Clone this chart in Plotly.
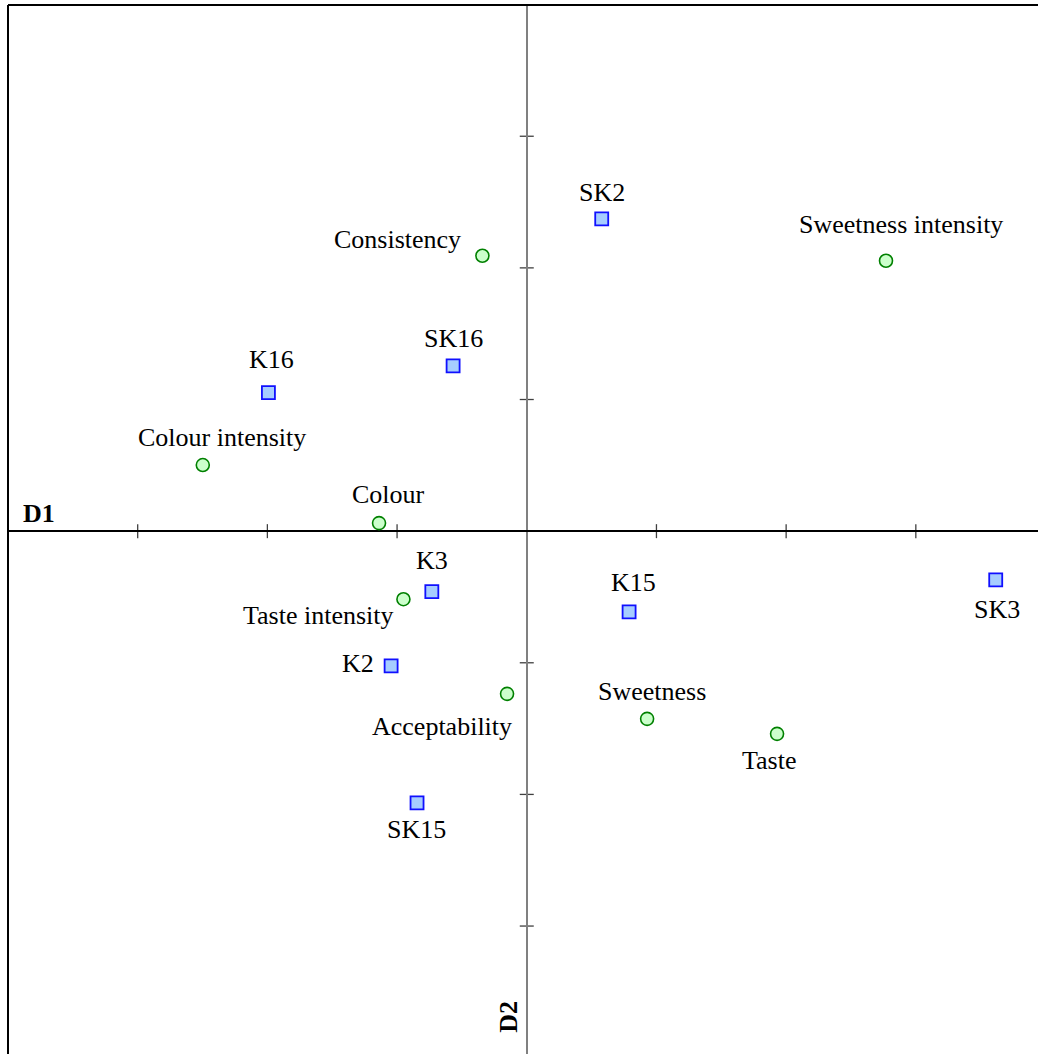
import plotly.graph_objects as go

# Product scores on the first two dimensions (squares)
products = ["SK2", "SK16", "K16", "K3", "K15", "SK3", "K2", "SK15"]
prod_d1 = [0.578, -0.568, -1.992, -0.732, 0.789, 3.616, -1.046, -0.846]
prod_d2 = [2.373, 1.256, 1.053, -0.459, -0.613, -0.370, -1.024, -2.065]

# Sensory attributes (circles)
attributes = ["Consistency", "Sweetness intensity", "Colour intensity", "Colour",
              "Taste intensity", "Acceptability", "Sweetness", "Taste"]
attr_d1 = [-0.342, 2.770, -2.498, -1.139, -0.951, -0.152, 0.928, 1.930]
attr_d2 = [2.092, 2.054, 0.502, 0.061, -0.517, -1.236, -1.426, -1.540]

# Tick positions along both axes (unlabelled)
tick_vals = [-3, -2, -1, 1, 2, 3]

# Label placement (pixel offsets from each marker: dx right, dy up)
label_offset = {
    "SK2": (0, 26), "SK16": (0, 27), "K16": (3, 33), "K3": (0, 31),
    "K15": (4, 29), "SK3": (1, -30), "K2": (-33, 2), "SK15": (-1, -27),
    "Consistency": (-85, 16), "Sweetness intensity": (15, 36),
    "Colour intensity": (19, 28), "Colour": (9, 29),
    "Taste intensity": (-85, -16), "Acceptability": (-65, -33),
    "Sweetness": (5, 27), "Taste": (-8, -27),
}

W, H = 1038, 1054
X_RANGE = [-4.0, 3.942]
Y_RANGE = [-3.972, 3.997]
FONT = "Liberation Serif, Times New Roman, serif"

fig = go.Figure()

fig.add_trace(go.Scatter(
    x=attr_d1, y=attr_d2, mode="markers", name="Attributes",
    marker=dict(symbol="circle", size=13, color="#ccffcc",
                line=dict(color="#008000", width=1.6)),
    hoverinfo="text", text=attributes,
))
fig.add_trace(go.Scatter(
    x=prod_d1, y=prod_d2, mode="markers", name="Products",
    marker=dict(symbol="square", size=13, color="#a6cdff",
                line=dict(color="#1010ff", width=1.8)),
    hoverinfo="text", text=products,
))

annotations = []
for names, xs, ys in ((products, prod_d1, prod_d2), (attributes, attr_d1, attr_d2)):
    for name, xv, yv in zip(names, xs, ys):
        dx, dy = label_offset[name]
        annotations.append(dict(
            x=xv, y=yv, xref="x", yref="y", text=name, showarrow=False,
            xanchor="center", yanchor="middle", xshift=dx, yshift=dy,
            font=dict(family=FONT, size=26, color="#000000"),
        ))

# Axis titles
annotations.append(dict(
    x=X_RANGE[0], y=0, xref="x", yref="y", text="<b>D1</b>", showarrow=False,
    xanchor="left", yanchor="middle", xshift=13, yshift=18,
    font=dict(family=FONT, size=26, color="#000000"),
))
annotations.append(dict(
    x=0, y=Y_RANGE[0], xref="x", yref="y", text="<b>D2</b>", showarrow=False,
    xanchor="center", yanchor="middle", xshift=-19, yshift=37, textangle=-90,
    font=dict(family=FONT, size=26, color="#000000"),
))

shapes = []
# Frame on left and top edges
shapes.append(dict(type="line", xref="paper", yref="paper", x0=0, x1=0, y0=0, y1=1,
                   line=dict(color="#000000", width=2)))
shapes.append(dict(type="line", xref="paper", yref="paper", x0=0, x1=1, y0=1, y1=1,
                   line=dict(color="#000000", width=2)))
# Tick marks crossing the axes
for t in tick_vals:
    shapes.append(dict(type="line", xref="x", yref="y", xsizemode="scaled",
                       ysizemode="pixel", yanchor=0, x0=t, x1=t, y0=-7, y1=7,
                       line=dict(color="#404040", width=1.3), layer="below"))
    shapes.append(dict(type="line", xref="x", yref="y", ysizemode="scaled",
                       xsizemode="pixel", xanchor=0, y0=t, y1=t, x0=-7, x1=7,
                       line=dict(color="#404040", width=1.3), layer="below"))

fig.update_layout(
    width=W, height=H,
    margin=dict(l=8, r=0, t=5, b=0),
    paper_bgcolor="#ffffff", plot_bgcolor="#ffffff",
    showlegend=False,
    annotations=annotations, shapes=shapes,
    xaxis=dict(range=X_RANGE, showgrid=False, showticklabels=False, ticks="",
               zeroline=True, zerolinecolor="#808080", zerolinewidth=2,
               showline=False, fixedrange=True),
    yaxis=dict(range=Y_RANGE, showgrid=False, showticklabels=False, ticks="",
               zeroline=True, zerolinecolor="#000000", zerolinewidth=1.5,
               showline=False, fixedrange=True),
)

fig.write_html("out.html", config={"displayModeBar": False})
